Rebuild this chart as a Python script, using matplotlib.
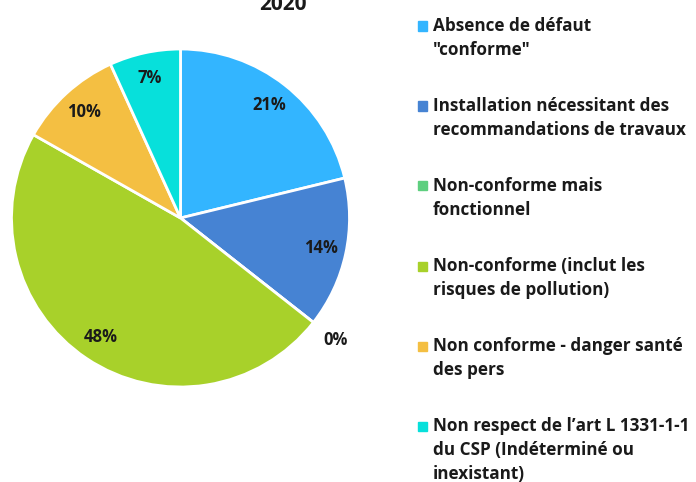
import matplotlib
matplotlib.use("Agg")
import matplotlib.pyplot as plt
from matplotlib.patches import Rectangle
import numpy as np

plt.rcParams['font.family'] = ['Open Sans', 'DejaVu Sans']

categories = [
    'Absence de défaut\n"conforme"',
    'Installation nécessitant des\nrecommandations de travaux',
    'Non-conforme mais\nfonctionnel',
    'Non-conforme (inclut les\nrisques de pollution)',
    'Non conforme - danger santé\ndes pers',
    "Non respect de l’art L 1331-1-1\ndu CSP (Indéterminé ou\ninexistant)",
]
values = [21.2, 14.4, 0.0, 47.6, 10.0, 6.8]
colors = ['#33B5FF', '#4683D3', '#5ECF7F', '#A8D12A', '#F4BF42', '#07E0DB']
title = '2020'

W, H = 696, 482
fig = plt.figure(figsize=(W/100, H/100), dpi=100)

cx, cy, r = 180.5, 218, 169
ax = fig.add_axes([(cx - r)/W, (H - cy - r)/H, 2*r/W, 2*r/H])

wedges, texts, autotexts = ax.pie(
    values, colors=colors, startangle=90, counterclock=False,
    autopct=lambda p: f'{p:.0f}%', pctdistance=0.85,
    wedgeprops=dict(edgecolor='white', linewidth=2),
    textprops=dict(fontsize=12, fontweight='bold', color='#1a1a1a'),
)
ax.set_xlim(-1, 1)
ax.set_ylim(-1, 1)
ax.set_aspect('equal')

# move labels of empty slices outside the pie
for w, t, v in zip(wedges, autotexts, values):
    if v == 0:
        ang = np.deg2rad(w.theta1)
        t.set_position((1.17*np.cos(ang), 1.17*np.sin(ang)))

fig.text(283/W, 1 - 4/H, title, ha='center', va='center', fontsize=15,
         fontweight='bold', color='#1a1a1a')

# legend
line_h = 24
y0 = 26
step = 80
for i, (lab, col) in enumerate(zip(categories, colors)):
    y = y0 + step*i
    fig.patches.append(Rectangle((418/W, 1 - (y + 4.5)/H), 9/W, 9/H,
                                 transform=fig.transFigure, color=col))
    for j, line in enumerate(lab.split('\n')):
        fig.text(433/W, 1 - (y + j*line_h)/H, line, ha='left', va='center',
                 fontsize=12.3, fontweight='bold', color='#1a1a1a')

fig.savefig('out.png', dpi=100, facecolor='white')
